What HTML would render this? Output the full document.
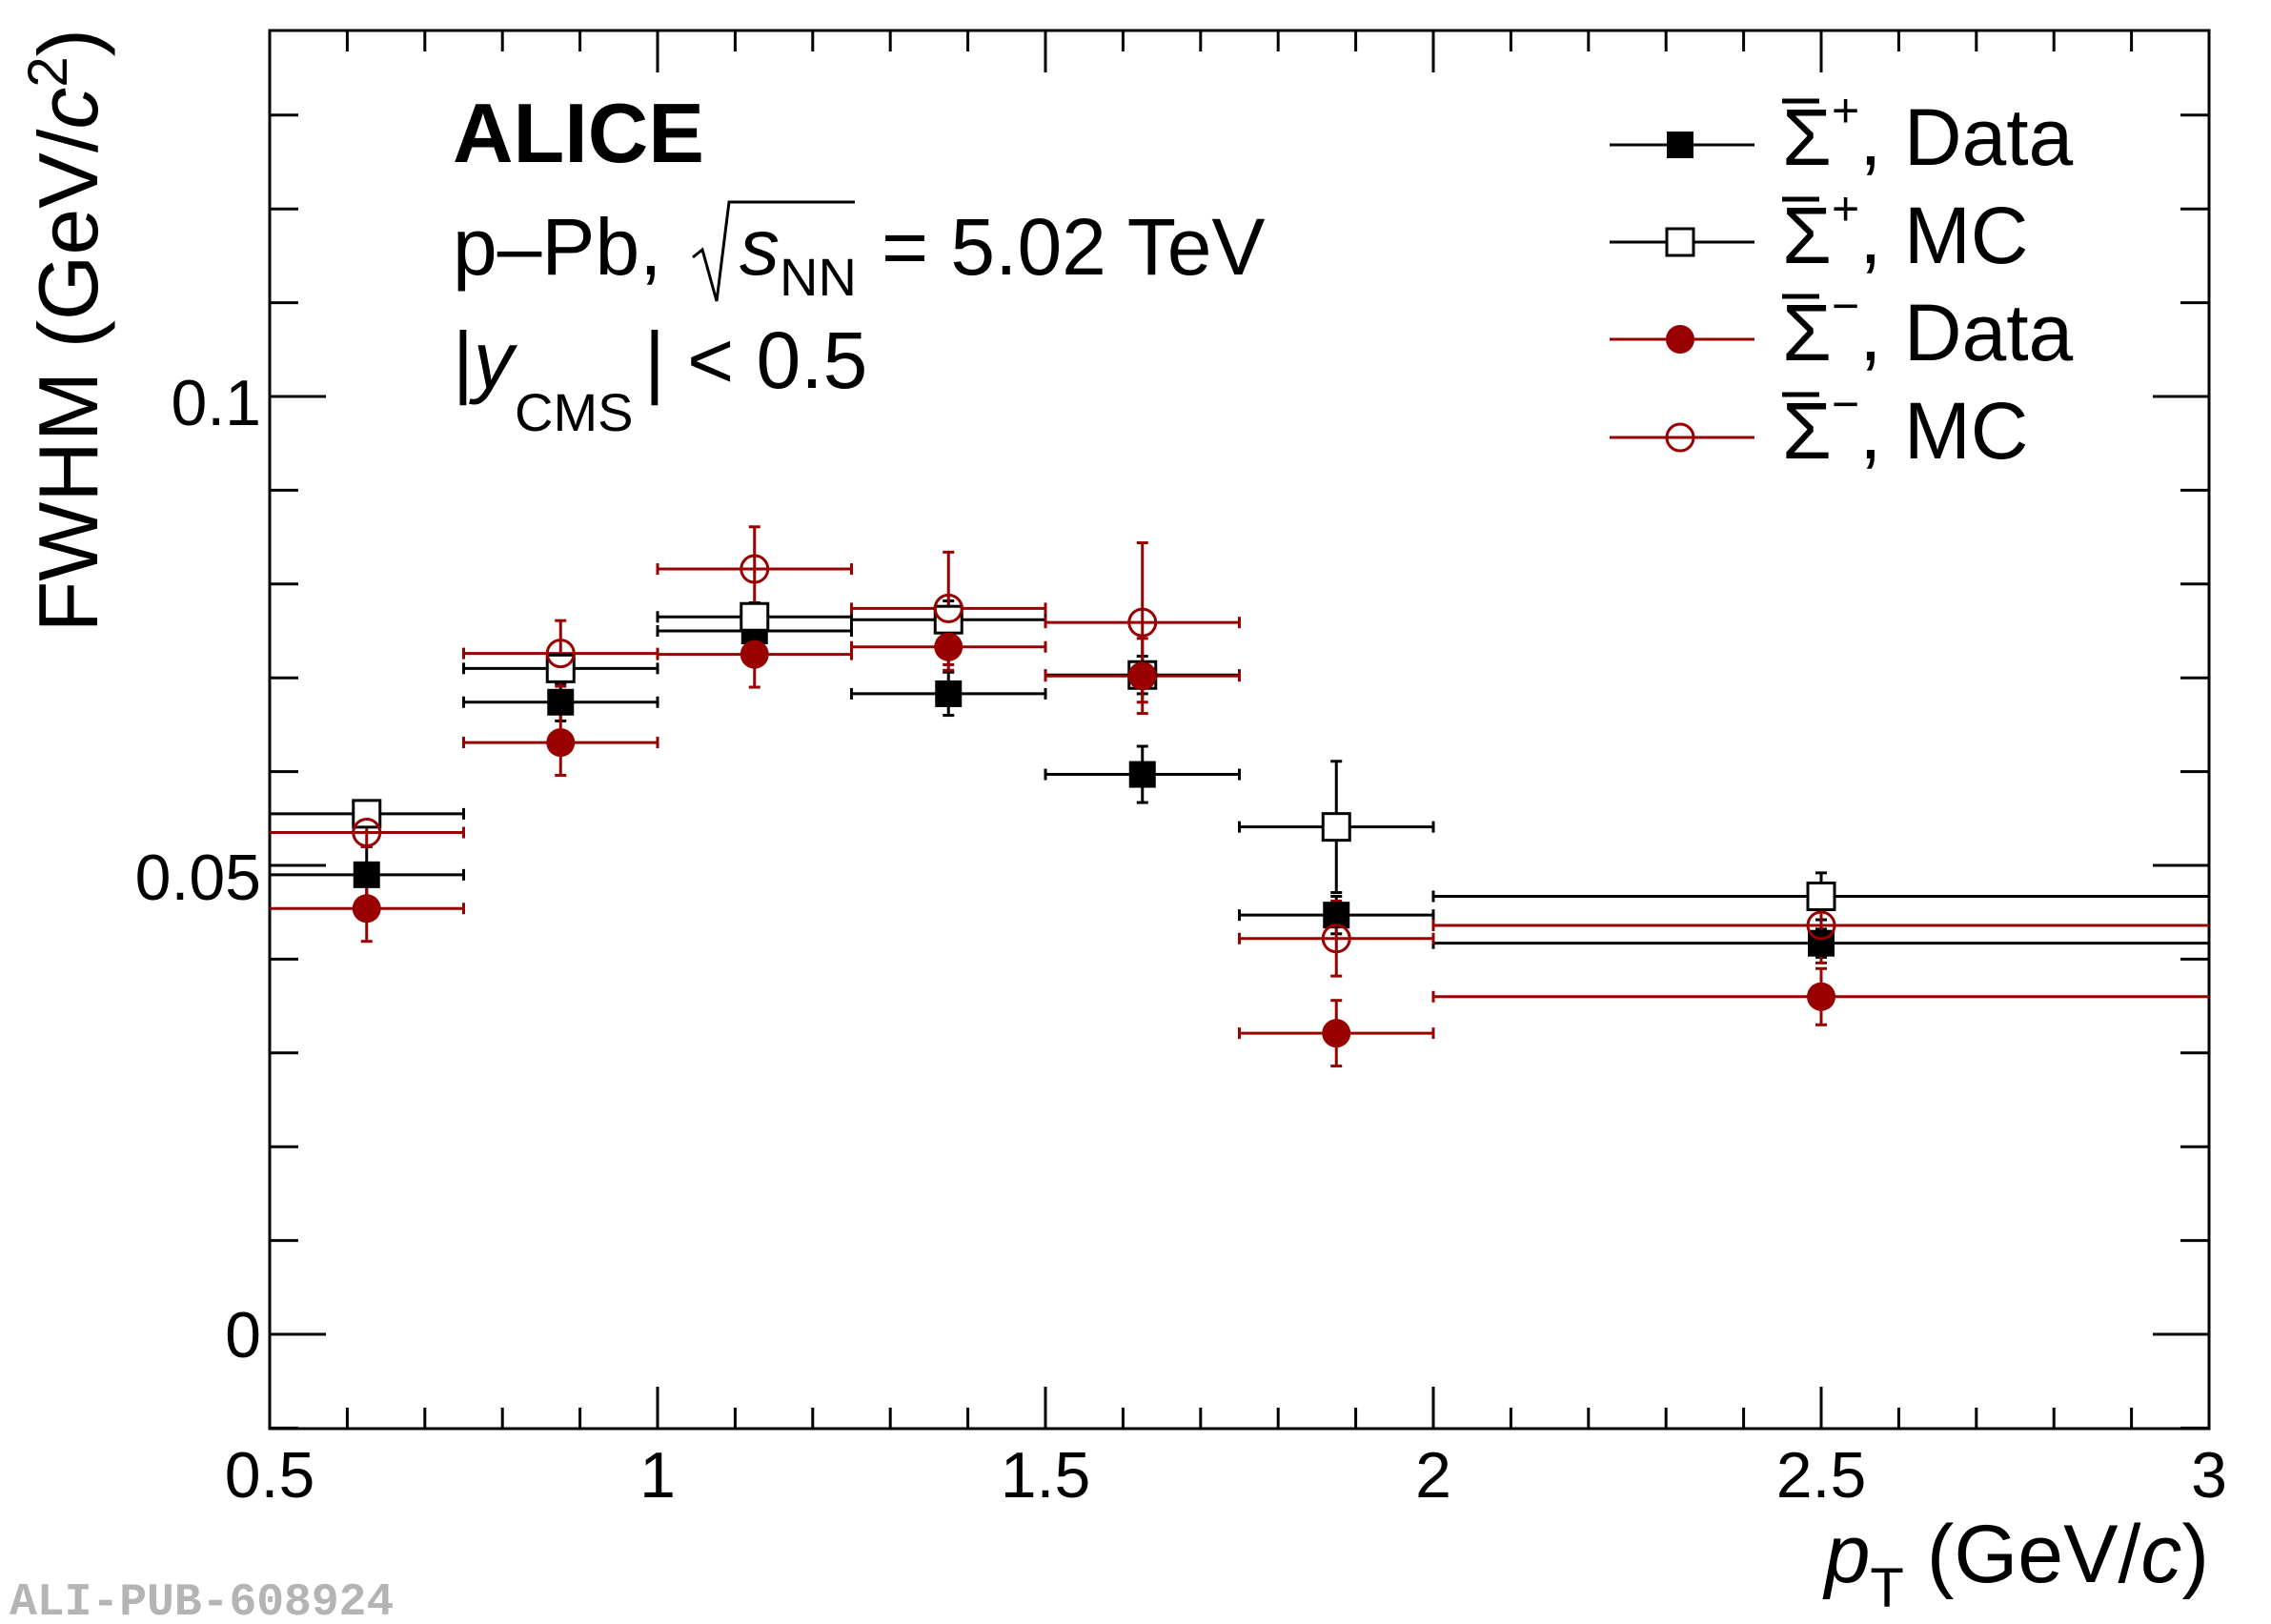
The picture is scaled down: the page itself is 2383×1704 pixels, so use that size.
<!DOCTYPE html>
<html><head><meta charset="utf-8"><style>
html,body{margin:0;padding:0;background:#fff;}
svg{display:block;font-family:"Liberation Sans",sans-serif;}
</style></head><body>
<svg id="s" width="2383" height="1704" viewBox="0 0 2383 1704" xmlns="http://www.w3.org/2000/svg">
<rect width="2383" height="1704" fill="#fff"/>
<g id="g"></g>
<text x="475" y="170" font-size="88" font-weight="bold">ALICE</text>
<text x="475" y="288" font-size="84">p–Pb,</text>
<text x="776" y="288" font-size="84" font-style="italic">s</text>
<text x="818" y="310" font-size="56">NN</text>
<text x="925" y="288" font-size="84">= 5.02 TeV</text>
<polyline points="727,270 737,262 752,316 765,212 897,212" fill="none" stroke="#000" stroke-width="3"/>
<text x="475" y="407" font-size="84">|<tspan font-style="italic">y</tspan></text>
<text x="540" y="452" font-size="56">CMS</text>
<text x="676" y="407" font-size="84">| &lt; 0.5</text>
<text x="274" y="446" font-size="68" text-anchor="end">0.1</text>
<text x="274" y="944" font-size="68" text-anchor="end">0.05</text>
<text x="274" y="1424" font-size="68" text-anchor="end">0</text>
<g font-size="68" text-anchor="middle">
<text x="283" y="1571">0.5</text><text x="690" y="1571">1</text><text x="1097" y="1571">1.5</text><text x="1504" y="1571">2</text><text x="1911" y="1571">2.5</text><text x="2318" y="1571">3</text>
</g>
<text x="2318" y="1660" font-size="86" text-anchor="end"><tspan font-style="italic">p</tspan><tspan font-size="58" dy="26">T</tspan><tspan dy="-26"> (GeV/</tspan><tspan font-style="italic">c</tspan>)</text>
<text transform="translate(102,30) rotate(-90)" font-size="88" text-anchor="end">FWHM (GeV/<tspan font-style="italic">c</tspan><tspan font-size="58" dy="-32">2</tspan><tspan dy="32">)</tspan></text>
<text x="10" y="1694" font-size="48" font-weight="bold" fill="#b4b4b4" font-family="Liberation Mono,monospace">ALI-PUB-608924</text>
<g font-size="84">
<text x="1870" y="173">Σ<tspan font-size="50" dy="-40">+</tspan><tspan dy="40">, Data</tspan></text>
<text x="1870" y="276">Σ<tspan font-size="50" dy="-40">+</tspan><tspan dy="40">, MC</tspan></text>
<text x="1870" y="378">Σ<tspan font-size="50" dy="-40">−</tspan><tspan dy="40">, Data</tspan></text>
<text x="1870" y="481">Σ<tspan font-size="50" dy="-40">−</tspan><tspan dy="40">, MC</tspan></text>
</g>
<g stroke="#000" stroke-width="5">
<line x1="1870" y1="106" x2="1909" y2="106"/><line x1="1870" y1="209" x2="1909" y2="209"/><line x1="1870" y1="311" x2="1909" y2="311"/><line x1="1870" y1="414" x2="1909" y2="414"/>
</g>
</svg>
<script>
const g=document.getElementById('g');let h='';
const X=v=>283+(v-0.5)*814, Y=v=>1400-v*9840;
const L=(a,b,c,d,col,w)=>h+=`<line x1="${a}" y1="${b}" x2="${c}" y2="${d}" stroke="${col}" stroke-width="${w||3}"/>`;
h+=`<rect x="283" y="32" width="2035" height="1467" fill="none" stroke="#000" stroke-width="3"/>`;
for(let i=-1;i<=13;i++){const y=Y(i*0.01);if(y<32||y>1499)continue;const len=i%5==0?59:30;L(283,y,283+len,y,'#000');L(2318,y,2318-len,y,'#000');}
for(let i=0;i<=25;i++){const x=X(0.5+i*0.1);const len=i%5==0?44:22;L(x,1499,x,1499-len,'#000');L(x,32,x,32+len,'#000');}
const R='#990000';
const xs=[[0.5,0.75],[0.75,1],[1,1.25],[1.25,1.5],[1.5,1.75],[1.75,2],[2,3]];
const S=[
 {c:'#000',m:'fs',d:[[0.049,0.003],[0.0674,0.002],[0.075,0.002],[0.0683,0.0023],[0.0597,0.003],[0.0447,0.002],[0.0417,0.0015]]},
 {c:'#000',m:'os',d:[[0.0555,0.0005],[0.071,0.0015],[0.0765,0.0015],[0.0762,0.002],[0.0703,0.002],[0.0541,0.007],[0.0467,0.0025]]},
 {c:R,m:'fc',d:[[0.0454,0.0035],[0.0631,0.0035],[0.0725,0.0035],[0.0733,0.0025],[0.0702,0.004],[0.0321,0.0035],[0.036,0.003]]},
 {c:R,m:'oc',d:[[0.0535,0.0015],[0.0726,0.0035],[0.0816,0.0045],[0.0774,0.006],[0.0759,0.0085],[0.0422,0.004],[0.0436,0.004]]}];
function mk(m,c,x,y){
 if(m=='fs')h+=`<rect x="${x-14}" y="${y-14}" width="28" height="28" fill="${c}"/>`;
 if(m=='os')h+=`<rect x="${x-14}" y="${y-14}" width="28" height="28" fill="#fff" stroke="${c}" stroke-width="3"/>`;
 if(m=='fc')h+=`<circle cx="${x}" cy="${y}" r="15" fill="${c}"/>`;
 if(m=='oc')h+=`<circle cx="${x}" cy="${y}" r="14" fill="none" stroke="${c}" stroke-width="3"/>`;
}
S.forEach(s=>s.d.forEach((p,i)=>{
 const [a,b]=xs[i],xc=X((a+b)/2),y=Y(p[0]),x1=X(a),x2=X(b);
 L(x1,y,x2,y,s.c);
 if(b<3){L(x2,y-6,x2,y+6,s.c);} if(a>0.5){L(x1,y-6,x1,y+6,s.c);}
 const yt=Y(p[0]+p[1]),yb=Y(p[0]-p[1]);
 L(xc,yt,xc,yb,s.c);L(xc-6,yt,xc+6,yt,s.c);L(xc-6,yb,xc+6,yb,s.c);
}));
S.forEach(s=>s.d.forEach((p,i)=>{const [a,b]=xs[i];mk(s.m,s.c,X((a+b)/2),Y(p[0]));}));
[152,254,356,459].forEach((y,i)=>{L(1689,y,1841,y,S[i].c);mk(S[i].m,S[i].c,1763,y);});
g.innerHTML=h;
</script>
</body></html>
